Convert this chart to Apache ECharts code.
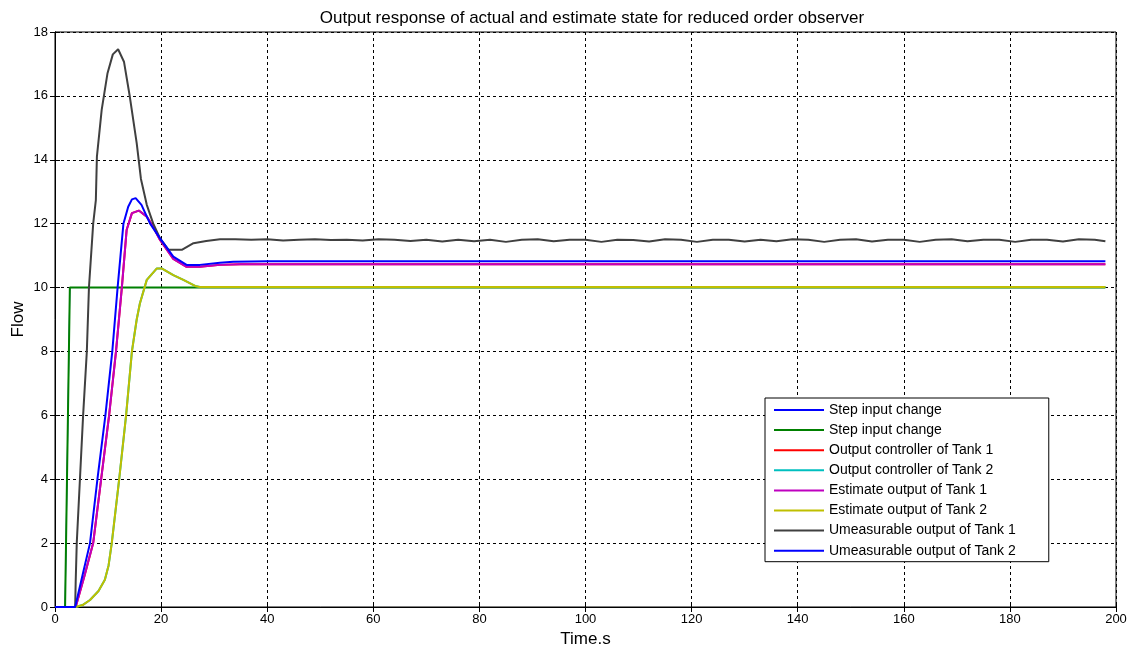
<!DOCTYPE html>
<html>
<head>
<meta charset="utf-8">
<script src="https://cdn.jsdelivr.net/npm/echarts@6/dist/echarts.min.js"></script>
<style>
html,body{margin:0;padding:0;background:#fff;}
#chart{width:1141px;height:654px;}
</style>
</head>
<body>
<div id="chart"></div>
<script>
// ---- data ----
const xTicks = [0, 20, 40, 60, 80, 100, 120, 140, 160, 180, 200];
const yTicks = [0, 2, 4, 6, 8, 10, 12, 14, 16, 18];

const stepT = [0, 1.9, 2.8, 198];
const stepV = [0, 0, 10, 10];

const est1T = [0, 3.9, 5.6, 7.2, 8.7, 10.2, 11.5, 12.6, 13.5, 14.5, 15.8, 17.3, 18.5, 19.8, 22.3, 24.8, 27.3, 31.1, 35, 198];
const est1V = [0, 0, 1, 2, 4, 6, 8, 10, 11.8, 12.33, 12.41, 12.22, 11.9, 11.49, 10.9, 10.65, 10.65, 10.71, 10.73, 10.73];

const est2T = [0, 3.9, 5.2, 6.6, 8.2, 9.4, 10.1, 10.7, 12.1, 13.4, 14.5, 15.4, 16.0, 17.3, 19.2, 20.1, 22.3, 24.2, 26.4, 27.3, 198];
const est2V = [0, 0, 0.06, 0.22, 0.5, 0.85, 1.3, 2, 4, 6, 8, 9.0, 9.5, 10.24, 10.6, 10.6, 10.39, 10.24, 10.05, 10.02, 10.02];

const um1T = [0, 3.8, 3.9, 4.1, 4.7, 5.3, 6.0, 6.4, 7.2, 7.7, 7.9, 8.8, 9.9, 10.9, 11.9, 13.0, 14.1, 15.4, 16.2, 17.3, 18.5, 19.8, 21.4, 23.9, 26.1, 28.5, 31.1,
  34, 37, 40, 43, 46, 49, 52, 55, 58, 61, 64, 67, 70, 73, 76, 79, 82, 85, 88, 91, 94, 97, 100, 103, 106, 109, 112, 115, 118, 121,
  124, 127, 130, 133, 136, 139, 142, 145, 148, 151, 154, 157, 160, 163, 166, 169, 172, 175, 178, 181, 184, 187, 190, 193, 196, 198];
const um1V = [0, 0, 0.8, 2, 4, 6, 8, 10, 12, 12.74, 14.1, 15.56, 16.71, 17.3, 17.46, 17.07, 15.98, 14.52, 13.4, 12.59, 12.01, 11.54, 11.18, 11.18, 11.39, 11.46, 11.51,
  11.51, 11.5, 11.51, 11.47, 11.5, 11.51, 11.49, 11.5, 11.47, 11.51, 11.5, 11.46, 11.5, 11.44, 11.5, 11.45, 11.5, 11.43, 11.5, 11.51, 11.45, 11.5, 11.5, 11.43,
  11.5, 11.49, 11.44, 11.51, 11.5, 11.43, 11.5, 11.5, 11.44, 11.5, 11.45, 11.51, 11.5, 11.43, 11.5, 11.51, 11.44, 11.5, 11.5, 11.43, 11.5, 11.51, 11.45, 11.5,
  11.5, 11.43, 11.5, 11.5, 11.44, 11.51, 11.5, 11.45, 11.5, 11.51];

const um2T = [0, 3.8, 5.2, 6.6, 8.0, 9.5, 10.8, 11.8, 12.9, 13.8, 14.5, 15.2, 16.3, 17.9, 19.8, 22.3, 24.8, 27.3, 31.1, 33.6, 40, 198];
const um2V = [0, 0, 1, 2, 4, 6, 8, 10, 12, 12.53, 12.76, 12.8, 12.59, 12.01, 11.54, 10.97, 10.71, 10.71, 10.78, 10.81, 10.82, 10.82];

const names = ['Step input change', 'Step input change ', 'Output controller of Tank 1', 'Output controller of Tank 2',
  'Estimate output of Tank 1', 'Estimate output of Tank 2', 'Umeasurable output of Tank 1', 'Umeasurable output of Tank 2'];
const colors = ['#0000ff', '#008000', '#ff0000', '#00bfbf', '#bf00bf', '#bfbf00', '#404040', '#0000ff'];
const widths = [1, 2, 2, 2, 2, 2, 2, 2];

function pairs(t, v) { return t.map((x, i) => [x, v[i]]); }
const seriesData = [
  pairs(stepT, stepV), pairs(stepT, stepV),
  pairs(est1T, est1V), pairs(est2T, est2V),
  pairs(est1T, est1V), pairs(est2T, est2V),
  pairs(um1T, um1V), pairs(um2T, um2V)
];

const FONT = 'Arial, "Liberation Sans", Helvetica, sans-serif';
const chart = echarts.init(document.getElementById('chart'));

const axisCommon = {
  axisLine: { show: true, lineStyle: { color: '#000', width: 1 } },
  axisTick: { show: true, inside: true, length: 5, lineStyle: { color: '#000' } },
};

chart.setOption({
  animation: false,
  backgroundColor: '#fff',
  title: {
    text: 'Output response of actual and estimate state for reduced order observer',
    left: 587, top: 5, textAlign: 'center',
    textStyle: { fontFamily: FONT, fontSize: 17, fontWeight: 'normal', color: '#000' }
  },
  grid: { left: 55, right: 25, top: 32, bottom: 47, show: true, borderColor: '#000', borderWidth: 1,
    backgroundColor: '#fff', containLabel: false, outerBoundsMode: 'none' },
  legend: {
    orient: 'vertical', left: 765, top: 398,
    data: names,
    itemWidth: 50, itemHeight: 14, itemGap: 6.1,
    padding: [5, 33, 4, 8],
    backgroundColor: '#fff', borderColor: '#000', borderWidth: 1, borderRadius: 0,
    itemStyle: { opacity: 0 },
    textStyle: { fontFamily: FONT, fontSize: 14, color: '#000' },
    selectedMode: false
  },
  xAxis: [
    Object.assign({
      type: 'value', min: 0, max: 200, interval: 20, position: 'bottom',
      name: 'Time.s', nameLocation: 'middle', nameGap: 24, nameMoveOverlap: false,
      nameTextStyle: { fontFamily: FONT, fontSize: 17, color: '#000' },
      axisLabel: { fontFamily: FONT, fontSize: 13, color: '#000', margin: 6 },
      splitLine: { show: true, lineStyle: { color: '#000', width: 1, type: [3, 3] } }
    }, axisCommon),
    Object.assign({
      type: 'value', min: 0, max: 200, interval: 20, position: 'top',
      axisLabel: { show: false }, splitLine: { show: false }
    }, axisCommon)
  ],
  yAxis: [
    Object.assign({
      type: 'value', min: 0, max: 18, interval: 2, position: 'left',
      name: 'Flow', nameLocation: 'middle', nameGap: 28, nameMoveOverlap: false,
      nameTextStyle: { fontFamily: FONT, fontSize: 17, color: '#000' },
      axisLabel: { fontFamily: FONT, fontSize: 13, color: '#000', margin: 7 },
      splitLine: { show: true, lineStyle: { color: '#000', width: 1, type: [3, 3] } }
    }, axisCommon),
    Object.assign({
      type: 'value', min: 0, max: 18, interval: 2, position: 'right',
      axisLabel: { show: false }, splitLine: { show: false }
    }, axisCommon)
  ],
  series: names.map((n, i) => ({
    name: n, type: 'line', data: seriesData[i],
    xAxisIndex: 0, yAxisIndex: 0,
    symbol: 'none', showSymbol: false,
    lineStyle: { color: colors[i], width: widths[i] },
    itemStyle: { color: colors[i] },
    z: 2 + i, silent: true
  }))
});
</script>
</body>
</html>
